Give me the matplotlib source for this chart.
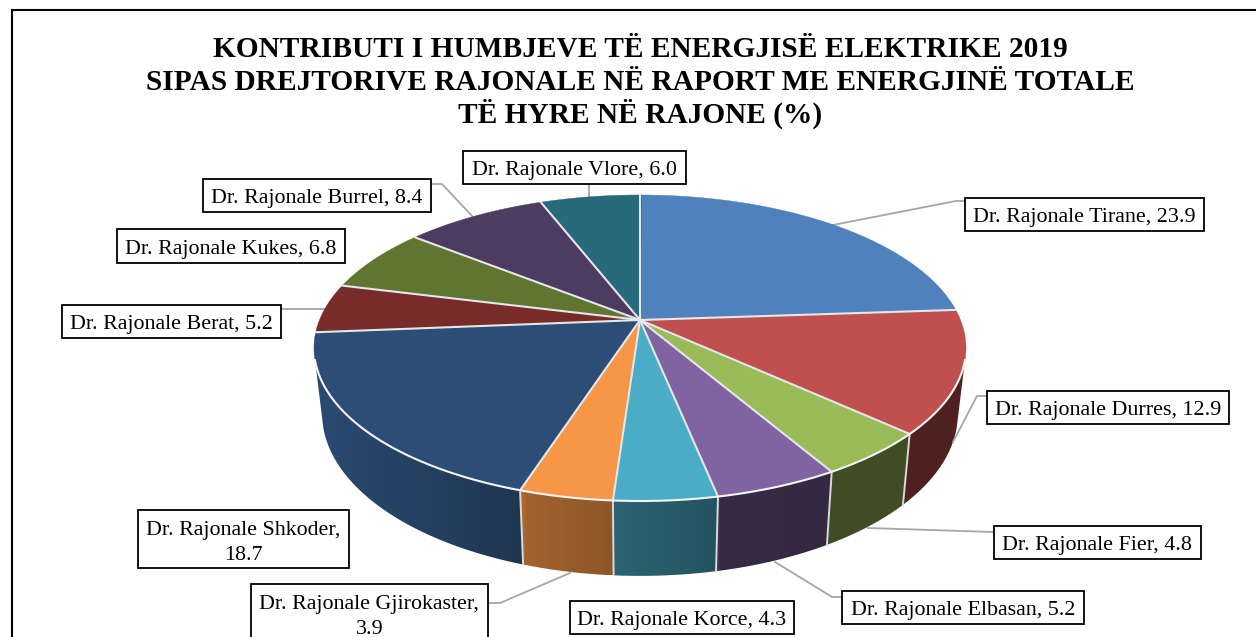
import numpy as np
import matplotlib
matplotlib.use("Agg")
import matplotlib.pyplot as plt
from matplotlib.patches import Polygon, Rectangle

names = ["Dr. Rajonale Tirane", "Dr. Rajonale Durres", "Dr. Rajonale Fier", "Dr. Rajonale Elbasan",
         "Dr. Rajonale Korce", "Dr. Rajonale Gjirokaster", "Dr. Rajonale Shkoder", "Dr. Rajonale Berat",
         "Dr. Rajonale Kukes", "Dr. Rajonale Burrel", "Dr. Rajonale Vlore"]
values = [23.9, 12.9, 4.8, 5.2, 4.3, 3.9, 18.7, 5.2, 6.8, 8.4, 6.0]
colors = ["#4f81bd", "#c0504d", "#9bbb59", "#8064a2", "#4bacc6", "#f79646",
          "#2c4d75", "#772c2a", "#5f7530", "#4d3b62", "#276a7c"]
title_lines = ["KONTRIBUTI I HUMBJEVE TË ENERGJISË ELEKTRIKE 2019",
               "SIPAS DREJTORIVE RAJONALE NË RAPORT ME ENERGJINË TOTALE",
               "TË HYRE NË RAJONE (%)"]

# label boxes: x0, y0, x1, y1 in pixels, then leader path
boxes = {
    0: (965, 197.5, 1204, 231), 1: (987, 390.5, 1229, 423.5), 2: (993.5, 526, 1200.5, 559),
    3: (842, 591, 1084, 624), 4: (570, 601, 794, 633.5), 5: (250.5, 584, 488, 645),
    6: (137.5, 509.5, 349, 567.5), 7: (62, 304.5, 281, 337.5), 8: (117, 229, 345, 262.5),
    9: (203, 179, 430.5, 211.5), 10: (463, 151, 686, 183.5),
}
leaders = {
    0: [(833, 225), (956, 201), (965, 201)], 1: [(953, 442), (977, 396), (987, 396)],
    2: [(868, 528), (993.5, 532)], 3: [(775, 562), (832, 597), (842, 597)],
    5: [(570, 573), (500, 603), (488, 603)], 7: [(281, 309), (325, 309)],
    9: [(473, 217), (442, 184), (430.5, 184)], 10: [(589, 198), (589, 183.5)],
}
wrapped = {5: ["Dr. Rajonale Gjirokaster,", "3.9"], 6: ["Dr. Rajonale Shkoder,", "18.7"]}

SERIF = "Liberation Serif"
CX, CY, A, B, K = 640.0, 320.0, 320.5, 147.9, 0.183
DROP, SX, SY = 64.0, 0.975, 1.06


def top(theta):
    x, y = np.sin(theta), np.cos(theta)
    w = 1 + K * y
    return CX + A * x / w, CY - B * y / w


def bottom(theta):
    X, Y = top(theta)
    return CX + (X - CX) * SX, CY + DROP + (Y - CY) * SY


def shade(px):
    return np.interp(px, [315, 525, 525.01, 615, 615.01, 720, 720.01, 830, 966],
                     [0.97, 0.70, 0.66, 0.57, 0.58, 0.48, 0.42, 0.41, 0.41])


fig = plt.figure(figsize=(12.56, 6.37), dpi=100, facecolor="white")
ax = fig.add_axes([0, 0, 1, 1])
ax.axis("off")

edges = np.cumsum([0] + values) / 100 * 2 * np.pi

# side walls: one gradient image per visible slice, clipped to its wall outline
for i in range(1, 7):
    t0, t1 = edges[i], edges[i + 1]
    if i == 1:  # wall becomes visible on the right from this angle
        t0 = np.radians(105)
    if i == 6:  # and ends on the left at this angle
        t1 = np.radians(255)
    ts = np.linspace(t0, t1, 100)
    xt, yt = top(ts)
    xb, yb = bottom(ts)
    poly = np.column_stack([np.r_[xt, xb[::-1]], np.r_[yt, yb[::-1]]])
    x0, x1 = poly[:, 0].min(), poly[:, 0].max()
    y0, y1 = poly[:, 1].min(), poly[:, 1].max()
    px = np.linspace(x0, x1, 400)
    rgb = np.array(matplotlib.colors.to_rgb(colors[i]))
    img = np.clip(shade(px)[None, :, None] * rgb[None, None, :], 0, 1)
    outline = Polygon(poly, closed=True, fc="none", ec="none", transform=ax.transData)
    ax.add_patch(outline)
    im = ax.imshow(img, extent=[x0, x1, y1, y0], aspect="auto", interpolation="bilinear", zorder=2)
    im.set_clip_path(outline)
    if i >= 2:
        xa, ya = top(edges[i]); xc, yc = bottom(edges[i])
        ax.plot([xa, xc], [ya, yc], color="#d9d9d9", lw=1.4, zorder=3)

# top face
for i in range(len(values)):
    ts = np.linspace(edges[i], edges[i + 1], 120)
    X, Y = top(ts)
    pts = np.column_stack([np.r_[CX, X], np.r_[CY, Y]])
    ax.add_patch(Polygon(pts, closed=True, fc=colors[i], ec=colors[i], lw=0.3, zorder=4))
# slice spokes
for i in range(len(values)):
    X, Y = top(edges[i])
    ax.plot([CX, X], [CY, Y], color="#e4e6ea", lw=1.5, solid_capstyle="round", zorder=5)
# bright front rim
tf = np.linspace(np.radians(105), np.radians(255), 300)
ax.plot(*top(tf), color="#f4f4f4", lw=1.5, zorder=5)

# leaders
for i, path in leaders.items():
    xs, ys = zip(*path)
    ax.plot(xs, ys, color="#a6a6a6", lw=1.3, zorder=3.5)

# labels
for i, (x0, y0, x1, y1) in boxes.items():
    ax.add_patch(Rectangle((x0, y0), x1 - x0, y1 - y0, fc="white", ec="black", lw=1.3, zorder=6))
    xm = (x0 + x1) / 2
    if i in wrapped:
        for n, s in enumerate(wrapped[i]):
            ax.text(xm, y0 + 25 + n * 25, s, family=SERIF, fontsize=15.85, ha="center",
                    va="baseline", zorder=7, color="black")
    else:
        ax.text(xm, y1 - 8.7, f"{names[i]}, {values[i]}", family=SERIF, fontsize=15.85,
                ha="center", va="baseline", zorder=7, color="black")

for s, yb in zip(title_lines, [57, 90, 123]):
    ax.text(640, yb, s, family=SERIF, fontsize=21.15, fontweight="bold", ha="center",
            va="baseline", color="black", zorder=7)

# outer frame (open at right and bottom, as cropped)
ax.plot([12, 12], [637, 10], color="black", lw=1.5, zorder=8)
ax.plot([12, 1256], [10, 10], color="black", lw=1.5, zorder=8)

ax.set_xlim(0, 1256)
ax.set_ylim(637, 0)
fig.savefig("out.png", dpi=100, facecolor="white")
